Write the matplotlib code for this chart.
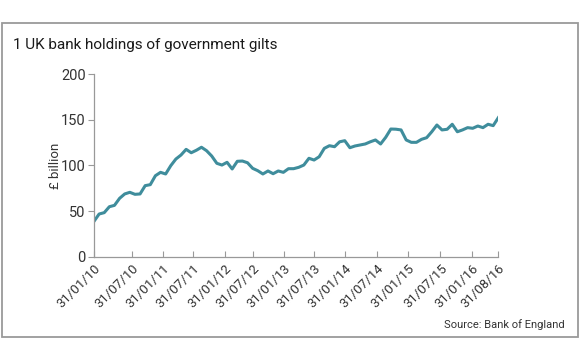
import matplotlib
matplotlib.use("Agg")
import matplotlib.pyplot as plt
from matplotlib.patches import Rectangle

plt.rcParams['font.family'] = ['Roboto', 'DejaVu Sans']

title = "1 UK bank holdings of government gilts"
source = "Source: Bank of England"
ylabel = "£ billion"

values = [38.8, 46.8, 48.3, 54.8, 56.3, 64.0, 68.8, 70.6, 68.4, 68.8,
          77.9, 79.0, 88.8, 92.5, 90.7, 99.8, 107.1, 111.5, 117.7, 114.0,
          116.7, 120.0, 116.2, 110.4, 102.4, 100.5, 103.5, 96.2, 104.6, 104.9,
          103.0, 96.9, 94.3, 90.7, 94.0, 91.0, 94.0, 92.5, 96.5, 96.5,
          98.0, 100.5, 107.9, 106.0, 109.6, 118.8, 121.7, 120.6, 126.0, 127.2,
          119.5, 121.4, 122.5, 123.6, 126.0, 128.0, 123.6, 130.9, 140.0, 139.8,
          139.0, 128.0, 125.4, 125.4, 128.7, 130.5, 137.0, 144.4, 139.0, 139.7,
          145.2, 137.0, 139.0, 141.5, 140.8, 143.3, 141.5, 145.2, 143.7, 152.4]

tick_labels = ["31/01/10", "31/07/10", "31/01/11", "31/07/11", "31/01/12",
               "31/07/12", "31/01/13", "31/07/13", "31/01/14", "31/07/14",
               "31/01/15", "31/07/15", "31/01/16", "31/08/16"]
tick_index = [0, 7.5, 13.4, 19.3, 25.5, 31.1, 37.1, 43.0, 49.0, 55.3,
              61.4, 67.7, 73.8, 79]
yticks = [0, 50, 100, 150, 200]

W, H = 580, 358
fig = plt.figure(figsize=(W / 100, H / 100), dpi=100)

# outer frame
fig.patches.append(Rectangle((2 / W, 1 - 337 / H), 576 / W, 314 / H,
                             transform=fig.transFigure, fill=False,
                             edgecolor='#9a9a9a', linewidth=1.3))

fig.text(13 / W, 1 - 45 / H, title, fontsize=11, color='#1a1a1a',
         va='center', ha='left')
fig.text(565 / W, 1 - 325 / H, source, fontsize=8, color='#333333',
         va='center', ha='right')

ax = fig.add_axes([94 / W, 1 - 256.7 / H, 404.3 / W, 182.4 / H])
x = list(range(len(values)))
ax.plot(x, values, color='#3f8d9c', linewidth=2.2, solid_joinstyle='round')

ax.set_xlim(0, len(values) - 1)
ax.set_ylim(0, 200)
ax.set_yticks(yticks)
ax.set_xticks(tick_index)
ax.set_xticklabels(tick_labels, rotation=45, ha='right', va='top',
                   rotation_mode='anchor')
for s in ['top', 'right']:
    ax.spines[s].set_visible(False)
for s in ['left', 'bottom']:
    ax.spines[s].set_color('#999999')
    ax.spines[s].set_linewidth(0.9)
ax.tick_params(axis='y', direction='out', length=4, width=0.8,
               color='#999999', labelsize=10.5, labelcolor='#333333', pad=2)
ax.tick_params(axis='x', direction='in', length=4, width=0.8,
               color='#999999', labelsize=9.5, labelcolor='#333333', pad=4)
ax.set_ylabel(ylabel, fontsize=9.5, color='#333333')
ax.yaxis.set_label_coords(-32 / 404.3, 0.5)

fig.savefig('out.png', dpi=100)
